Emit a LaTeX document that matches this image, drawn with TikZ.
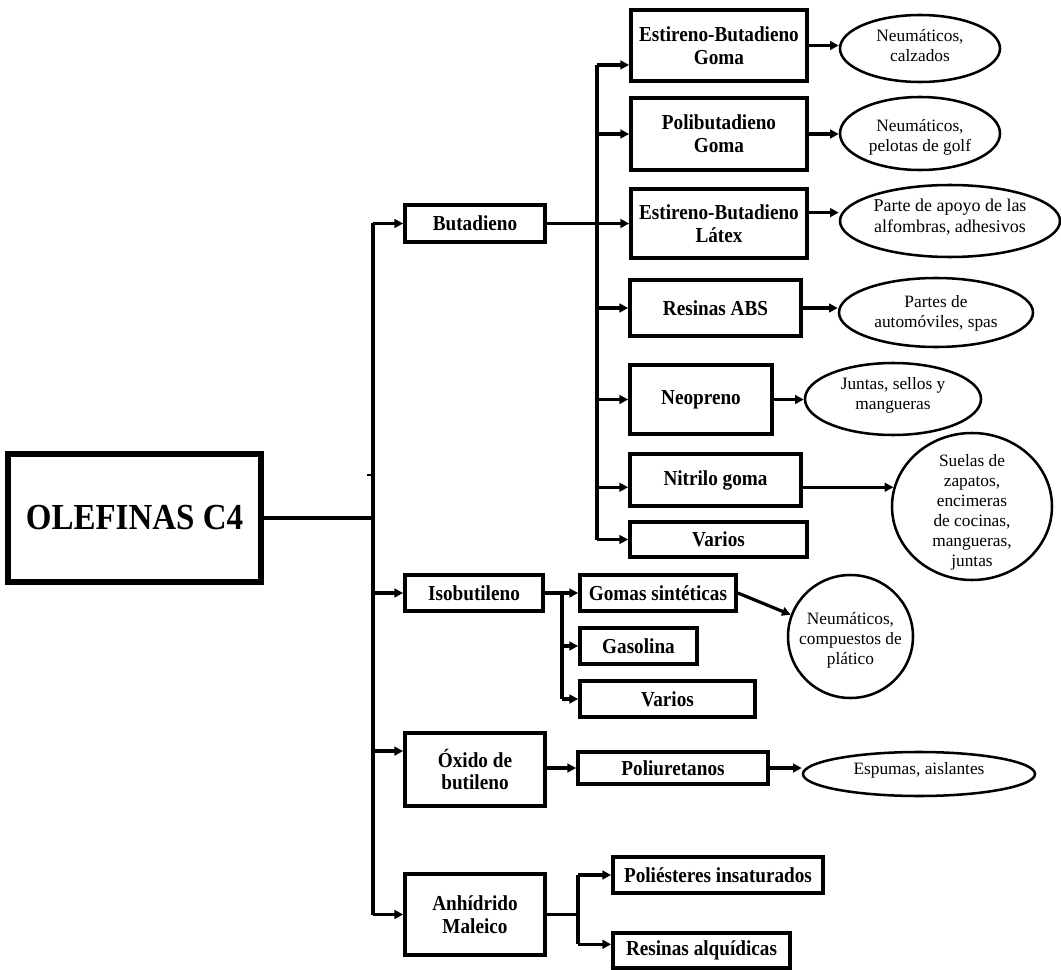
\documentclass[tikz,border=0pt]{standalone}
\usepackage{fontspec}
\setmainfont{Liberation Serif}
\newfontfamily\boxfont{Liberation Serif}[FakeStretch=0.9]
\usetikzlibrary{arrows.meta,shapes.geometric,calc}

\begin{document}
\begin{tikzpicture}[x=0.75pt,y=-0.75pt,
  sz/.style 2 args={minimum width=#1*0.75pt, minimum height=#2*0.75pt},
  box/.style={draw, line width=2.8pt, rectangle, inner sep=1pt, align=center,
    font=\boxfont\fontsize{16}{17}\selectfont\bfseries},
  ell/.style={draw, line width=1.9pt, ellipse, inner sep=0pt},
  etext/.style={align=center, inner sep=0pt, font=\fontsize{13}{15}\selectfont},
  conn/.style={line width=2.4pt},
  arr/.style={conn, -{Triangle[length=6.5pt,width=6.5pt]}},
]
\useasboundingbox (0,0) rectangle (1061,970);

% root
\node[box, line width=3.9pt, sz={253}{128},
  font=\boxfont\fontsize{27.5}{30}\selectfont\bfseries] (olef) at (134.5,518) {OLEFINAS C4};

% first level
\node[box, sz={140}{37}] (buta) at (475,223.5) {Butadieno};
\node[box, sz={138}{36}] (iso)  at (474,593)   {Isobutileno};
\node[box, sz={140}{73}] (oxi)  at (475,769.5) {Óxido de\\butileno};
\node[box, sz={140}{81}] (anh)  at (475,914.5) {Anhídrido\\Maleico};

% butadiene derivatives
\node[box, sz={176}{71}] (sbg)  at (719,45.5)  {Estireno-Butadieno\\Goma};
\node[box, sz={176}{72}] (pbg)  at (719,134)   {Polibutadieno\\Goma};
\node[box, sz={176}{69}] (sbl)  at (719,223.5) {Estireno-Butadieno\\Látex};
\node[box, sz={171}{56}] (abs)  at (715.5,308) {Resinas ABS};
\node[box, sz={142}{69}] (neo)  at (701,399.5) {Neopreno};
\node[box, sz={171}{52}] (nit)  at (715.5,480) {Nitrilo goma};
\node[box, sz={177}{35}] (var1) at (718.5,539.5) {Varios};

% isobutylene derivatives
\node[box, sz={156}{36}] (gom)  at (658,593)   {Gomas sintéticas};
\node[box, sz={117}{36}] (gas)  at (638.5,646) {Gasolina};
\node[box, sz={175}{36}] (var2) at (667.5,699) {Varios};

% butylene oxide and maleic anhydride derivatives
\node[box, sz={190}{32}] (pol)  at (673,768)   {Poliuretanos};
\node[box, sz={210}{36}] (pie)  at (718,875)   {Poliésteres insaturados};
\node[box, sz={177}{35}] (ral)  at (701.5,950.5) {Resinas alquídicas};

% end uses
\node[ell, sz={160}{67}]  (e1) at (920,48.5) {};
\node[etext] at (920,46) {Neumáticos,\\calzados};
\node[ell, sz={160}{73}]  (e2) at (920,133.5) {};
\node[etext] at (920,137) {Neumáticos,\\pelotas de golf};
\node[ell, sz={220}{72}]  (e3) at (950,221) {};
\node[etext, font=\fontsize{13.5}{16}\selectfont] at (950,217) {Parte de apoyo de las\\alfombras, adhesivos};
\node[ell, sz={194}{69}]  (e4) at (936,312.5) {};
\node[etext] at (936,313) {Partes de\\automóviles, spas};
\node[ell, sz={176}{72}]  (e5) at (893,399) {};
\node[etext] at (893,395) {Juntas, sellos y\\mangueras};
\node[ell, sz={160}{147}] (e6) at (972,506.5) {};
\node[etext] at (972,512) {Suelas de\\zapatos,\\encimeras\\de cocinas,\\mangueras,\\juntas};
\node[ell, sz={125}{123}] (e7) at (850.5,636.5) {};
\node[etext] at (850.5,640) {Neumáticos,\\compuestos de\\plático};
\node[ell, sz={232}{44}]  (e8) at (919,774) {};
\node[etext] at (919,770) {Espumas, aislantes};

% attachment points on box sides
\coordinate (tA) at (373,223.5);
\coordinate (tick) at (367,475);
\coordinate (bx) at (597,223.5);
\coordinate (ix) at (562,593);
\coordinate (ax) at (578,912);
\coordinate (sbgIn)  at ($(sbg.north west)!0.76!(sbg.south west)$);
\coordinate (sblOut) at ($(sbl.north east)!0.35!(sbl.south east)$);
\coordinate (nitIn)  at ($(nit.north west)!0.63!(nit.south west)$);
\coordinate (nitOut) at ($(nit.north east)!0.63!(nit.south east)$);
\coordinate (oxiIn)  at ($(oxi.north west)!0.26!(oxi.south west)$);
\coordinate (ralIn)  at ($(ral.north west)!0.34!(ral.south west)$);

% main trunk
\draw[conn] (olef.east) -- (olef.east -| tA);
\draw[conn] (tA) -- (tA |- anh.west);
\draw[line width=1.5pt] (tick) -- (tick -| tA);
\draw[arr] (tA) -- (buta.west);
\draw[arr] (tA |- iso.west) -- (iso.west);
\draw[arr] (tA |- oxiIn) -- (oxiIn);
\draw[arr] (tA |- anh.west) -- (anh.west);

% butadiene branch
\draw[conn] (buta.east) -- (bx);
\draw[conn] (bx |- sbgIn) -- (bx |- var1.west);
\draw[arr] (bx |- sbgIn) -- (sbgIn);
\draw[arr] (bx |- pbg.west) -- (pbg.west);
\draw[arr] (bx) -- (sbl.west);
\draw[arr] (bx |- abs.west) -- (abs.west);
\draw[arr] (bx |- neo.west) -- (neo.west);
\draw[arr] (bx |- nitIn) -- (nitIn);
\draw[arr] (bx |- var1.west) -- (var1.west);

\draw[arr] (sbg.east) -- (sbg.east -| e1.west);
\draw[arr] (pbg.east) -- (pbg.east -| e2.west);
\draw[arr] (sblOut) -- (sblOut -| e3.west);
\draw[arr] (abs.east) -- (abs.east -| e4.west);
\draw[arr] (neo.east) -- (neo.east -| e5.west);
\draw[arr] (nitOut) -- ([xshift=2pt]nitOut -| e6.west);

% isobutylene branch
\draw[arr] (iso.east) -- (gom.west);
\draw[conn] (ix) -- (ix |- var2.west);
\draw[arr] (ix |- gas.west) -- (gas.west);
\draw[arr] (ix |- var2.west) -- (var2.west);
\draw[arr] (gom.east) -- (e7.160);

% butylene oxide branch
\draw[arr] (pol.west -| oxi.east) -- (pol.west);
\draw[arr] (pol.east) -- (pol.east -| e8.west);

% maleic anhydride branch
\draw[conn] (anh.east) -- (anh.east -| ax);
\draw[conn] (ax |- pie.west) -- (ax |- ralIn);
\draw[arr] (ax |- pie.west) -- (pie.west);
\draw[arr] (ax |- ralIn) -- (ralIn);
\end{tikzpicture}
\end{document}
